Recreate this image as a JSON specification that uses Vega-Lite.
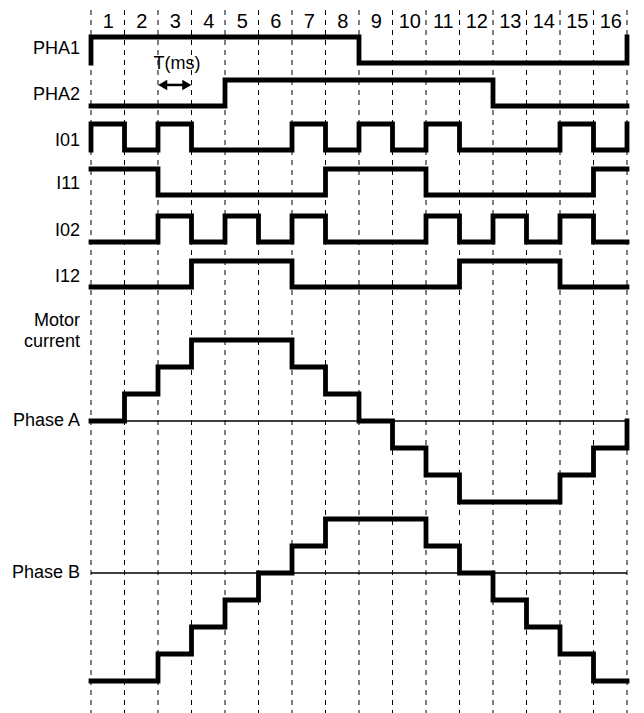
{
  "$schema": "https://vega.github.io/schema/vega-lite/v6.json",
  "width": 536,
  "height": 703,
  "autosize": {"type": "none"},
  "padding": {"left": 91, "top": 10, "right": 17, "bottom": 0},
  "background": "white",
  "config": {
    "view": {"stroke": null},
    "text": {"font": "Liberation Sans", "fontSize": 18, "color": "black"},
    "axis": {"labelFont": "Liberation Sans"}
  },
  "datasets": {
    "ticks": [{"t":0},{"t":1},{"t":2},{"t":3},{"t":4},{"t":5},{"t":6},{"t":7},{"t":8},{"t":9},{"t":10},{"t":11},{"t":12},{"t":13},{"t":14},{"t":15},{"t":16}],
    "steps": [
      {"s":"PHA1","t":0,"v":0},{"s":"PHA1","t":0,"v":1},{"s":"PHA1","t":8,"v":0},{"s":"PHA1","t":16,"v":0},{"s":"PHA1","t":16,"v":1},
      {"s":"PHA2","t":0,"v":0},{"s":"PHA2","t":4,"v":1},{"s":"PHA2","t":12,"v":0},{"s":"PHA2","t":16,"v":0},
      {"s":"I01","t":0,"v":0},{"s":"I01","t":0,"v":1},{"s":"I01","t":1,"v":0},{"s":"I01","t":2,"v":1},{"s":"I01","t":3,"v":0},{"s":"I01","t":6,"v":1},{"s":"I01","t":7,"v":0},{"s":"I01","t":8,"v":1},{"s":"I01","t":9,"v":0},{"s":"I01","t":10,"v":1},{"s":"I01","t":11,"v":0},{"s":"I01","t":14,"v":1},{"s":"I01","t":15,"v":0},{"s":"I01","t":16,"v":0},{"s":"I01","t":16,"v":1},
      {"s":"I11","t":0,"v":1},{"s":"I11","t":2,"v":0},{"s":"I11","t":7,"v":1},{"s":"I11","t":10,"v":0},{"s":"I11","t":15,"v":1},{"s":"I11","t":16,"v":1},
      {"s":"I02","t":0,"v":0},{"s":"I02","t":2,"v":1},{"s":"I02","t":3,"v":0},{"s":"I02","t":4,"v":1},{"s":"I02","t":5,"v":0},{"s":"I02","t":6,"v":1},{"s":"I02","t":7,"v":0},{"s":"I02","t":10,"v":1},{"s":"I02","t":11,"v":0},{"s":"I02","t":12,"v":1},{"s":"I02","t":13,"v":0},{"s":"I02","t":14,"v":1},{"s":"I02","t":15,"v":0},{"s":"I02","t":16,"v":0},
      {"s":"I12","t":0,"v":0},{"s":"I12","t":3,"v":1},{"s":"I12","t":6,"v":0},{"s":"I12","t":11,"v":1},{"s":"I12","t":14,"v":0},{"s":"I12","t":16,"v":0},
      {"s":"Phase A","t":0,"v":0},{"s":"Phase A","t":1,"v":1},{"s":"Phase A","t":2,"v":2},{"s":"Phase A","t":3,"v":3},{"s":"Phase A","t":6,"v":2},{"s":"Phase A","t":7,"v":1},{"s":"Phase A","t":8,"v":0},{"s":"Phase A","t":9,"v":-1},{"s":"Phase A","t":10,"v":-2},{"s":"Phase A","t":11,"v":-3},{"s":"Phase A","t":14,"v":-2},{"s":"Phase A","t":15,"v":-1},{"s":"Phase A","t":16,"v":-1},{"s":"Phase A","t":16,"v":0},
      {"s":"Phase B","t":0,"v":-4},{"s":"Phase B","t":2,"v":-3},{"s":"Phase B","t":3,"v":-2},{"s":"Phase B","t":4,"v":-1},{"s":"Phase B","t":5,"v":0},{"s":"Phase B","t":6,"v":1},{"s":"Phase B","t":7,"v":2},{"s":"Phase B","t":10,"v":1},{"s":"Phase B","t":11,"v":0},{"s":"Phase B","t":12,"v":-1},{"s":"Phase B","t":13,"v":-2},{"s":"Phase B","t":14,"v":-3},{"s":"Phase B","t":15,"v":-4},{"s":"Phase B","t":16,"v":-4}
    ],
    "labels": [
      {"s":"PHA1","t":0,"v":0.54,"text":"PHA1"},
      {"s":"PHA2","t":0,"v":0.42,"text":"PHA2"},
      {"s":"I01","t":0,"v":0.35,"text":"I01"},
      {"s":"I11","t":0,"v":0.42,"text":"I11"},
      {"s":"I02","t":0,"v":0.42,"text":"I02"},
      {"s":"I12","t":0,"v":0.37,"text":"I12"},
      {"s":"Phase A","t":0,"v":3.7,"text":"Motor"},
      {"s":"Phase A","t":0,"v":2.93,"text":"current"},
      {"s":"Phase A","t":0,"v":0,"text":"Phase A"},
      {"s":"Phase B","t":0,"v":0,"text":"Phase B"}
    ],
    "baselines": [
      {"s":"Phase A","t":0,"v":0},{"s":"Phase A","t":16,"v":0},
      {"s":"Phase B","t":0,"v":0},{"s":"Phase B","t":16,"v":0}
    ],
    "arrow": [
      {"t":2.14,"v":0.81,"head":"left"},
      {"t":2.86,"v":0.81,"head":"right"}
    ],
    "notes": [
      {"t":2.57,"v":1.6,"text":"T(ms)"}
    ]
  },
  "encoding": {
    "x": {
      "field": "t", "type": "quantitative",
      "scale": {"domain": [0, 16], "nice": false, "zero": false},
      "axis": {
        "orient": "top",
        "values": [0.5,1.5,2.5,3.5,4.5,5.5,6.5,7.5,8.5,9.5,10.5,11.5,12.5,13.5,14.5,15.5],
        "labelExpr": "format(datum.value + 0.5, 'd')",
        "domain": false, "ticks": false, "grid": false, "title": null,
        "labelFontSize": 20, "labelColor": "black", "labelBaseline": "middle",
        "labelPadding": 0, "offset": -11
      }
    }
  },
  "layer": [
    {
      "data": {"name": "ticks"},
      "mark": {"type": "rule", "color": "black", "strokeWidth": 1, "strokeDash": [5, 5]}
    },
    {
      "encoding": {"y": {"field": "v", "type": "quantitative", "scale": {"domain": [-25.0, 2.0385], "nice": false, "zero": false}, "axis": null}},
      "layer": [
        {"data": {"name": "steps"}, "transform": [{"filter": "datum.s === 'PHA1'"}], "mark": {"type": "line", "interpolate": "step-after", "strokeWidth": 4.8, "color": "black", "strokeCap": "square", "strokeJoin": "miter"}, "encoding": {"order": {"value": null}}},
        {"data": {"name": "labels"}, "transform": [{"filter": "datum.s === 'PHA1'"}], "mark": {"type": "text", "align": "right", "baseline": "middle", "dx": -11}, "encoding": {"text": {"field": "text"}}}
      ]
    },
    {
      "encoding": {"y": {"field": "v", "type": "quantitative", "scale": {"domain": [-23.3462, 3.6923], "nice": false, "zero": false}, "axis": null}},
      "layer": [
        {"data": {"name": "steps"}, "transform": [{"filter": "datum.s === 'PHA2'"}], "mark": {"type": "line", "interpolate": "step-after", "strokeWidth": 4.8, "color": "black", "strokeCap": "square", "strokeJoin": "miter"}, "encoding": {"order": {"value": null}}},
        {"data": {"name": "labels"}, "transform": [{"filter": "datum.s === 'PHA2'"}], "mark": {"type": "text", "align": "right", "baseline": "middle", "dx": -11}, "encoding": {"text": {"field": "text"}}},
        {"data": {"name": "arrow"}, "mark": {"type": "line", "strokeWidth": 2.5, "color": "black"}},
        {"data": {"name": "arrow"}, "mark": {"type": "point", "filled": true, "opacity": 1, "size": 110, "color": "black", "strokeWidth": 0},
         "encoding": {"shape": {"field": "head", "type": "nominal", "scale": {"domain": ["left", "right"], "range": ["triangle-left", "triangle-right"]}, "legend": null}}},
        {"data": {"name": "notes"}, "mark": {"type": "text", "align": "center", "baseline": "middle"}, "encoding": {"text": {"field": "text"}}}
      ]
    },
    {
      "encoding": {"y": {"field": "v", "type": "quantitative", "scale": {"domain": [-21.6539, 5.3846], "nice": false, "zero": false}, "axis": null}},
      "layer": [
        {"data": {"name": "steps"}, "transform": [{"filter": "datum.s === 'I01'"}], "mark": {"type": "line", "interpolate": "step-after", "strokeWidth": 4.8, "color": "black", "strokeCap": "square", "strokeJoin": "miter"}, "encoding": {"order": {"value": null}}},
        {"data": {"name": "labels"}, "transform": [{"filter": "datum.s === 'I01'"}], "mark": {"type": "text", "align": "right", "baseline": "middle", "dx": -11}, "encoding": {"text": {"field": "text"}}}
      ]
    },
    {
      "encoding": {"y": {"field": "v", "type": "quantitative", "scale": {"domain": [-19.9231, 7.1154], "nice": false, "zero": false}, "axis": null}},
      "layer": [
        {"data": {"name": "steps"}, "transform": [{"filter": "datum.s === 'I11'"}], "mark": {"type": "line", "interpolate": "step-after", "strokeWidth": 4.8, "color": "black", "strokeCap": "square", "strokeJoin": "miter"}, "encoding": {"order": {"value": null}}},
        {"data": {"name": "labels"}, "transform": [{"filter": "datum.s === 'I11'"}], "mark": {"type": "text", "align": "right", "baseline": "middle", "dx": -11}, "encoding": {"text": {"field": "text"}}}
      ]
    },
    {
      "encoding": {"y": {"field": "v", "type": "quantitative", "scale": {"domain": [-18.1154, 8.9231], "nice": false, "zero": false}, "axis": null}},
      "layer": [
        {"data": {"name": "steps"}, "transform": [{"filter": "datum.s === 'I02'"}], "mark": {"type": "line", "interpolate": "step-after", "strokeWidth": 4.8, "color": "black", "strokeCap": "square", "strokeJoin": "miter"}, "encoding": {"order": {"value": null}}},
        {"data": {"name": "labels"}, "transform": [{"filter": "datum.s === 'I02'"}], "mark": {"type": "text", "align": "right", "baseline": "middle", "dx": -11}, "encoding": {"text": {"field": "text"}}}
      ]
    },
    {
      "encoding": {"y": {"field": "v", "type": "quantitative", "scale": {"domain": [-16.3847, 10.6538], "nice": false, "zero": false}, "axis": null}},
      "layer": [
        {"data": {"name": "steps"}, "transform": [{"filter": "datum.s === 'I12'"}], "mark": {"type": "line", "interpolate": "step-after", "strokeWidth": 4.8, "color": "black", "strokeCap": "square", "strokeJoin": "miter"}, "encoding": {"order": {"value": null}}},
        {"data": {"name": "labels"}, "transform": [{"filter": "datum.s === 'I12'"}], "mark": {"type": "text", "align": "right", "baseline": "middle", "dx": -11}, "encoding": {"text": {"field": "text"}}}
      ]
    },
    {
      "encoding": {"y": {"field": "v", "type": "quantitative", "scale": {"domain": [-10.8148, 15.2222], "nice": false, "zero": false}, "axis": null}},
      "layer": [
        {"data": {"name": "baselines"}, "transform": [{"filter": "datum.s === 'Phase A'"}], "mark": {"type": "line", "strokeWidth": 1.5, "color": "black"}},
        {"data": {"name": "steps"}, "transform": [{"filter": "datum.s === 'Phase A'"}], "mark": {"type": "line", "interpolate": "step-after", "strokeWidth": 4.8, "color": "black", "strokeCap": "square", "strokeJoin": "miter"}, "encoding": {"order": {"value": null}}},
        {"data": {"name": "labels"}, "transform": [{"filter": "datum.s === 'Phase A'"}], "mark": {"type": "text", "align": "right", "baseline": "middle", "dx": -11}, "encoding": {"text": {"field": "text"}}}
      ]
    },
    {
      "encoding": {"y": {"field": "v", "type": "quantitative", "scale": {"domain": [-5.1851, 20.8519], "nice": false, "zero": false}, "axis": null}},
      "layer": [
        {"data": {"name": "baselines"}, "transform": [{"filter": "datum.s === 'Phase B'"}], "mark": {"type": "line", "strokeWidth": 1.5, "color": "black"}},
        {"data": {"name": "steps"}, "transform": [{"filter": "datum.s === 'Phase B'"}], "mark": {"type": "line", "interpolate": "step-after", "strokeWidth": 4.8, "color": "black", "strokeCap": "square", "strokeJoin": "miter"}, "encoding": {"order": {"value": null}}},
        {"data": {"name": "labels"}, "transform": [{"filter": "datum.s === 'Phase B'"}], "mark": {"type": "text", "align": "right", "baseline": "middle", "dx": -11}, "encoding": {"text": {"field": "text"}}}
      ]
    }
  ],
  "resolve": {"scale": {"y": "independent"}}
}
